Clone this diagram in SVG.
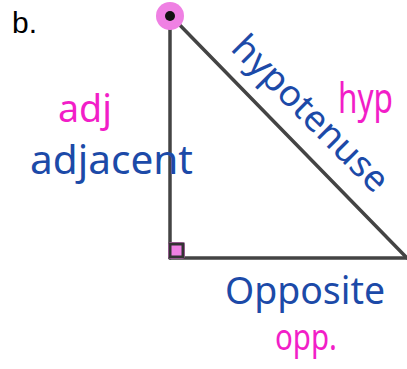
<svg xmlns="http://www.w3.org/2000/svg" width="407" height="369" viewBox="0 0 407 369">
<style>
.edge{stroke:#444;stroke-width:3.5;fill:none;stroke-linecap:round}
.pk{fill:#f21ec8;font-family:"Noto Sans","Liberation Sans",sans-serif}
.bl{fill:#1c4aa8;font-family:"Noto Sans","Liberation Sans",sans-serif}
.lbl{fill:#000;font-family:"Liberation Sans",Arial,sans-serif}
</style>
<rect width="407" height="369" fill="#fff"/>
<text class="lbl" x="12" y="33" font-size="30">b.</text>
<g id="connectors">
<line class="edge" x1="170" y1="15" x2="170" y2="258"/>
<line class="edge" x1="170" y1="258" x2="407" y2="258"/>
<line class="edge" x1="170" y1="15" x2="407" y2="258"/>
</g>
<g id="top-vertex">
<circle cx="170" cy="16" r="14" fill="#ef80e3"/>
<circle cx="170" cy="16" r="5" fill="#111"/>
</g>
<g id="right-angle">
<rect x="168" y="242" width="17" height="17" fill="#ef80e3" rx="3"/>
<rect x="170" y="244" width="13" height="13" fill="none" stroke="#333" stroke-width="3"/>
</g>
<g id="adj-label">
<text class="pk" x="58" y="122" font-size="38" textLength="54" lengthAdjust="spacingAndGlyphs">adj</text>
<text class="bl" x="30" y="174" font-size="40" textLength="163" lengthAdjust="spacingAndGlyphs">adjacent</text>
</g>
<g id="hyp-label">
<text class="pk" x="338" y="113" font-size="42" textLength="55" lengthAdjust="spacingAndGlyphs">hyp</text>
<text class="bl" transform="translate(302,122) rotate(45)" x="0" y="0" font-size="36" text-anchor="middle" textLength="205" lengthAdjust="spacingAndGlyphs">hypotenuse</text>
</g>
<g id="opp-label">
<text class="bl" x="225" y="304" font-size="38" textLength="160" lengthAdjust="spacingAndGlyphs">Opposite</text>
<text class="pk" x="275" y="350" font-size="36" textLength="62" lengthAdjust="spacingAndGlyphs">opp.</text>
</g>
</svg>
